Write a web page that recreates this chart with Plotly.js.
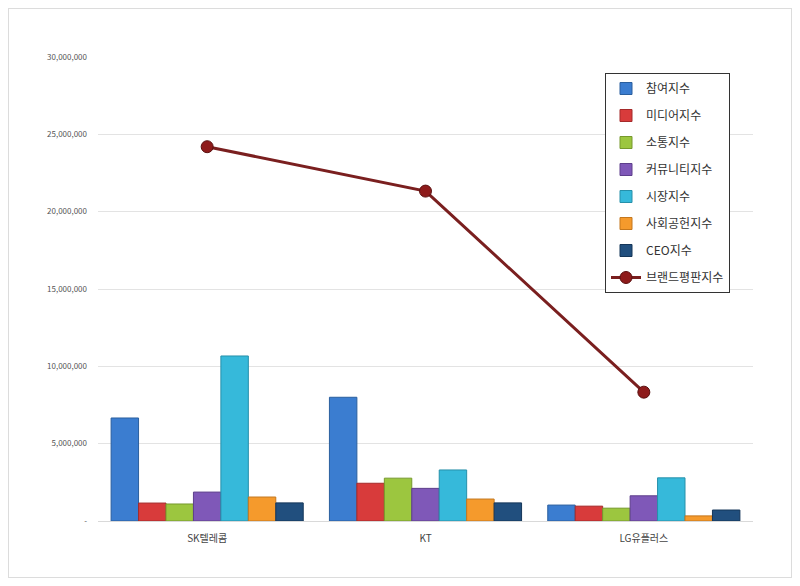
<!DOCTYPE html>
<html>
<head>
<meta charset="utf-8">
<script src="https://cdn.plot.ly/plotly-3.0.1.min.js"></script>
<style>
    html, body { margin: 0; padding: 0; background: #fff; }
    #wrap { position: relative; width: 800px; height: 586px; }
    #chart { width: 800px; height: 586px; }
    #frame {
        position: absolute; left: 8px; top: 8px; width: 782px; height: 568px;
        border: 1px solid #dcdcdc; pointer-events: none;
    }
</style>
</head>
<body>
<div id="wrap">
    <div id="chart"></div>
    <div id="frame"></div>
</div>
<script>
const companies = ["SK텔레콤", "KT", "LG유플러스"];

const participation = [6660000, 8000000, 1030000];
const media = [1160000, 2440000, 960000];
const communication = [1100000, 2770000, 830000];
const community = [1870000, 2110000, 1630000];
const market = [10670000, 3300000, 2790000];
const socialContribution = [1550000, 1420000, 330000];
const ceo = [1170000, 1170000, 710000];
const brandReputation = [24200000, 21330000, 8330000];

const yTicks = [0, 5000000, 10000000, 15000000, 20000000, 25000000, 30000000];
const yTickText = ["-", "5,000,000", "10,000,000", "15,000,000", "20,000,000", "25,000,000", "30,000,000"];

const barSeries = [
    { name: "참여지수", values: participation, color: "#3b7dd0", line: "#2a5f9e" },
    { name: "미디어지수", values: media, color: "#d83b3b", line: "#a52a2a" },
    { name: "소통지수", values: communication, color: "#9cc63f", line: "#76992c" },
    { name: "커뮤니티지수", values: community, color: "#7f58b8", line: "#5e3f8c" },
    { name: "시장지수", values: market, color: "#36b9da", line: "#2690aa" },
    { name: "사회공헌지수", values: socialContribution, color: "#f59a2c", line: "#c4771d" },
    { name: "CEO지수", values: ceo, color: "#214f7e", line: "#153659" },
];

const data = barSeries.map((s) => ({
    type: "bar",
    name: s.name,
    legendgroup: s.name,
    x: companies,
    y: s.values,
    marker: { color: s.color, line: { color: s.line, width: 1 } },
}));

data.push({
    type: "scatter",
    mode: "lines+markers",
    name: "브랜드평판지수",
    legendgroup: "brand",
    x: companies,
    y: brandReputation,
    line: { color: "#7a1f1f", width: 3 },
    marker: { color: "#8e1b1b", size: 12, line: { color: "#5a1010", width: 1 } },
});

const margin = { l: 98, r: 47, t: 57, b: 65 };
const plotW = 800 - margin.l - margin.r;
const plotH = 586 - margin.t - margin.b;

const layout = {
    width: 800,
    height: 586,
    margin: margin,
    paper_bgcolor: "#ffffff",
    plot_bgcolor: "#ffffff",
    font: { family: "'Noto Sans CJK KR', 'Noto Sans', sans-serif", color: "#444" },
    barmode: "group",
    bargap: 0.12,
    bargroupgap: 0,
    showlegend: true,
    legend: {
        x: (605 - margin.l) / plotW,
        y: 1 - (73 - margin.t) / plotH,
        xanchor: "left",
        yanchor: "top",
        bgcolor: "#ffffff",
        bordercolor: "#333333",
        borderwidth: 1,
        font: { size: 12, color: "#333" },
        tracegroupgap: 8,
        itemwidth: 30,
    },
    xaxis: {
        type: "category",
        showgrid: false,
        showline: true,
        linecolor: "#d9d9d9",
        ticks: "",
        ticklabelstandoff: 8,
        tickfont: { size: 10, color: "#444" },
        fixedrange: true,
    },
    yaxis: {
        range: [0, 30000000],
        tickvals: yTicks,
        ticktext: yTickText,
        showgrid: true,
        gridcolor: "#e3e3e3",
        zeroline: false,
        showline: false,
        ticks: "",
        ticklabelstandoff: 10,
        tickfont: { size: 8, color: "#555" },
        fixedrange: true,
    },
};

Plotly.newPlot("chart", data, layout, { displayModeBar: false, staticPlot: true });
</script>
</body>
</html>
